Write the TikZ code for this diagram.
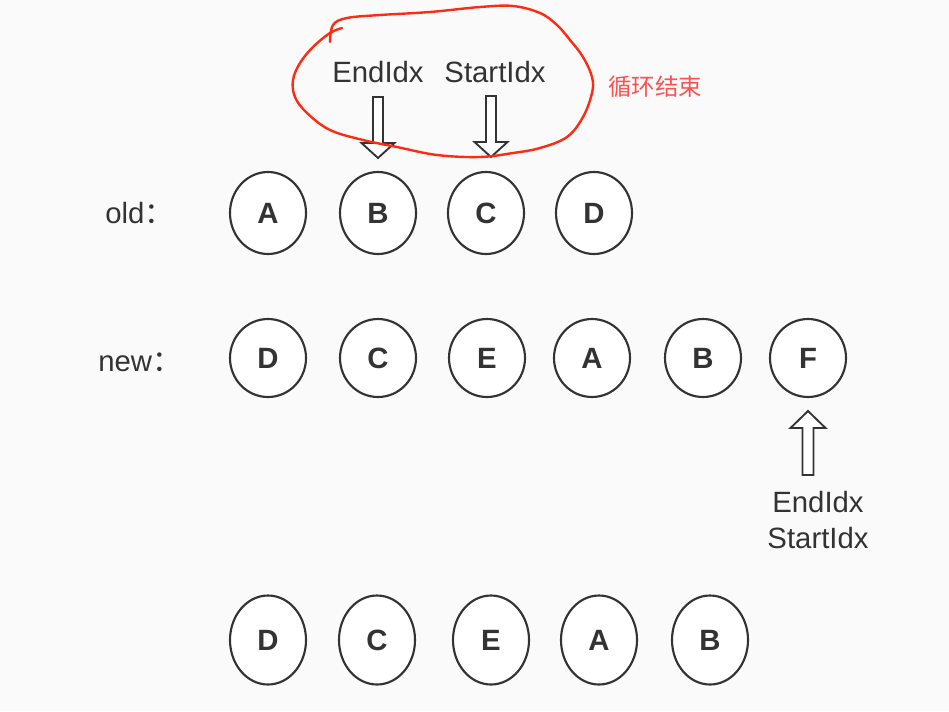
\documentclass[tikz,border=0pt]{standalone}
\usepackage{fontspec}
\setmainfont{Liberation Sans}
\newfontfamily\cjk{Noto Sans CJK SC}
\usetikzlibrary{shapes.geometric}
\definecolor{ink}{HTML}{333333}
\definecolor{bgc}{HTML}{FAFAFA}
\definecolor{scrib}{HTML}{FF2A12}
\definecolor{redtext}{HTML}{FF5050}
\begin{document}
\begin{tikzpicture}[x=0.75pt,y=-0.75pt,
  item/.style={ellipse, draw=ink, line width=1.6pt, fill=white, inner sep=0pt,
    minimum width=57pt, font=\fontsize{22}{26}\selectfont\bfseries, text=ink},
  oldrow/.style={item, minimum height=61.5pt},
  newrow/.style={item, minimum height=58.5pt},
  endrow/.style={item, minimum height=66.75pt},
  lbl/.style={font=\fontsize{22}{26}\selectfont, text=ink, inner sep=0pt},
  hollow/.style={draw=ink, line width=1.4pt, fill=white, line join=miter},
  downarrow/.pic={\path[hollow] (-5,-61) -- (5,-61) -- (5,-15) -- (16.5,-15) -- (0,0) -- (-16.5,-15) -- (-5,-15) -- cycle;},
  uparrow/.pic={\path[hollow] (0,0) -- (17.5,17) -- (5.5,17) -- (5.5,64) -- (-5.5,64) -- (-5.5,17) -- (-17.5,17) -- cycle;}
]
\fill[bgc] (0,0) rectangle (949,711);
\useasboundingbox (0,0) rectangle (949,711);

% row labels
\node[lbl, anchor=west] (lold) at (105,213) {old\cjk：};
\node[lbl, anchor=west] (lnew) at (98,362) {new\cjk：};

% old row
\node[oldrow] (oA) at (268,213) {A};
\node[oldrow] (oB) at (378,213) {B};
\node[oldrow] (oC) at (486,213) {C};
\node[oldrow] (oD) at (594,213) {D};

% new row
\node[newrow] (nD) at (268,358) {D};
\node[newrow] (nC) at (378,358) {C};
\node[newrow] (nE) at (487,358) {E};
\node[newrow] (nA) at (592,358) {A};
\node[newrow] (nB) at (703,358) {B};
\node[newrow] (nF) at (808,358) {F};

% result row
\node[endrow] (rD) at (268,640) {D};
\node[endrow] (rC) at (377,640) {C};
\node[endrow] (rE) at (491,640) {E};
\node[endrow] (rA) at (599,640) {A};
\node[endrow] (rB) at (710,640) {B};

% pointers
\node[lbl] (tEnd) at (378,72) {EndIdx};
\node[lbl] (tStart) at (495,72) {StartIdx};
\pic at (378,158) {downarrow};
\pic at (491,157) {downarrow};

\pic at (808,411) {uparrow};
\node[lbl] (bEnd) at (818,502) {EndIdx};
\node[lbl] (bStart) at (818,538) {StartIdx};

% red annotation
\draw[scrib, line width=1.8pt, line cap=round, line join=round]
  plot[smooth, tension=0.6] coordinates {
   (330,42) (333,25) (347,18) (380,15) (430,12) (480,7) (513,6) (540,13)
   (557,25) (570,40) (583,57) (592,77) (592,93) (583,117) (567,137)
   (540,148) (513,153) (480,157) (437,155) (397,147) (363,140) (330,130)
   (307,113) (295,97) (293,80) (300,63) (313,47) (330,33) (342,28)};
\node[font=\cjk\fontsize{17.6}{20}\selectfont, text=redtext, inner sep=0pt] (note) at (655,87) {循环结束};
\end{tikzpicture}
\end{document}
